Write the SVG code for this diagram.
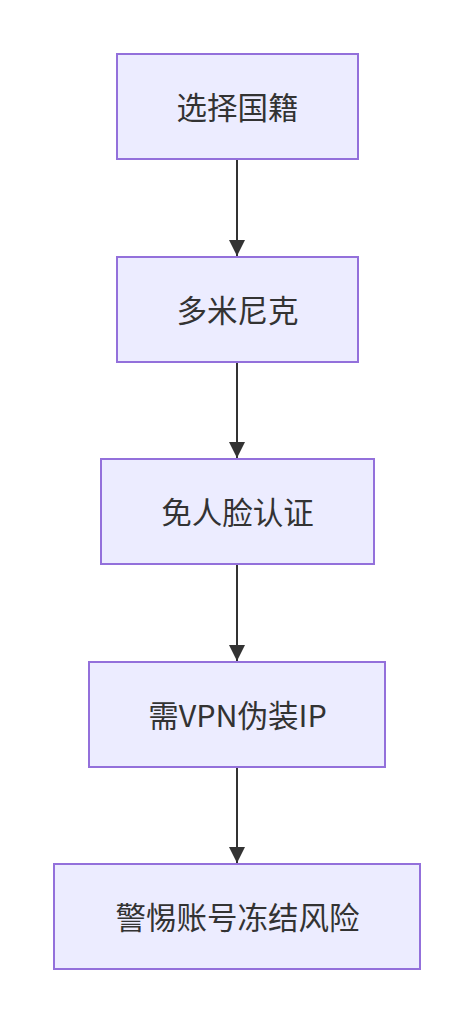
<svg xmlns="http://www.w3.org/2000/svg" width="475" height="1024" viewBox="0 0 475 1024">
<style>
.node rect{fill:#ECECFF;stroke:#9370DB;stroke-width:2}
.node text{font-family:"Noto Sans CJK SC","Noto Sans",sans-serif;font-size:30.5px;fill:#333;text-anchor:middle;dominant-baseline:central}
.edge{stroke:#333;stroke-width:2;fill:none}
</style>
<defs>
<marker id="arrow" viewBox="0 0 10 10" refX="10" refY="5" markerWidth="8" markerHeight="8" markerUnits="strokeWidth" orient="auto">
<path d="M0,0 L10,5 L0,10 Z" fill="#333"/>
</marker>
</defs>
<rect width="475" height="1024" fill="#fff"/>
<g id="connectors">
<line class="edge" x1="237" y1="159" x2="237" y2="256" marker-end="url(#arrow)"/>
<line class="edge" x1="237" y1="362" x2="237" y2="458" marker-end="url(#arrow)"/>
<line class="edge" x1="237" y1="564" x2="237" y2="661" marker-end="url(#arrow)"/>
<line class="edge" x1="237" y1="767" x2="237" y2="863" marker-end="url(#arrow)"/>
</g>
<g id="n1" class="node"><rect x="117" y="54" width="241" height="105"/><text x="237.5" y="106">选择国籍</text></g>
<g id="n2" class="node"><rect x="117" y="257" width="241" height="105"/><text x="237.5" y="309">多米尼克</text></g>
<g id="n3" class="node"><rect x="101" y="459" width="273" height="105"/><text x="237.5" y="511">免人脸认证</text></g>
<g id="n4" class="node"><rect x="89" y="662" width="296" height="105"/><text x="237.5" y="714">需VPN伪装IP</text></g>
<g id="n5" class="node"><rect x="54" y="864" width="366" height="105"/><text x="237.5" y="916">警惕账号冻结风险</text></g>
</svg>
